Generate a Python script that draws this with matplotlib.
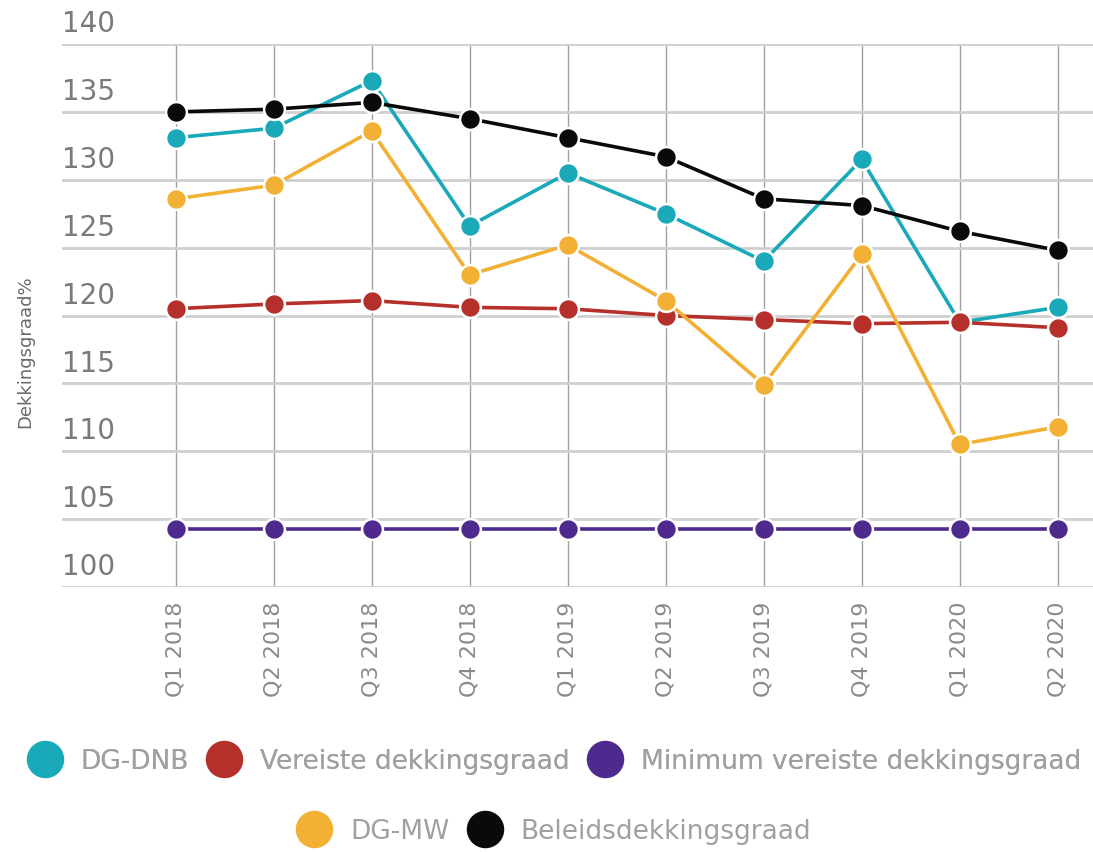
import matplotlib.pyplot as plt
from matplotlib.lines import Line2D
from matplotlib.transforms import blended_transform_factory

quarters = ["Q1 2018", "Q2 2018", "Q3 2018", "Q4 2018", "Q1 2019",
            "Q2 2019", "Q3 2019", "Q4 2019", "Q1 2020", "Q2 2020"]
dg_dnb = [133.1, 133.8, 137.3, 126.6, 130.5, 127.5, 124.0, 131.5, 119.5, 120.6]
vereiste = [120.5, 120.85, 121.1, 120.6, 120.5, 120.0, 119.7, 119.4, 119.5, 119.1]
minimum = [104.3] * 10
dg_mw = [128.6, 129.6, 133.6, 123.0, 125.2, 121.1, 114.9, 124.5, 110.5, 111.8]
beleid = [135.0, 135.2, 135.7, 134.5, 133.1, 131.7, 128.6, 128.1, 126.2, 124.8]
yticks = [100, 105, 110, 115, 120, 125, 130, 135, 140]

c_teal = "#1aa9b9"
c_red = "#b5302a"
c_purple = "#4e2a8e"
c_yellow = "#f2b134"
c_black = "#0a0a0a"
txt = "#8a8a8a"

fig = plt.figure(figsize=(10.93, 8.53), dpi=100)
ax = fig.add_axes([0.0567, 0.3107, 0.9433, 0.6365])

x = list(range(len(quarters)))
style = dict(lw=2.6, marker="o", markersize=15, markeredgecolor="white",
             markeredgewidth=1.8)
series = [(dg_dnb, c_teal, "DG-DNB", 3),
          (vereiste, c_red, "Vereiste dekkingsgraad", 4),
          (minimum, c_purple, "Minimum vereiste dekkingsgraad", 3),
          (dg_mw, c_yellow, "DG-MW", 5),
          (beleid, c_black, "Beleidsdekkingsgraad", 6)]
for vals, col, name, z in series:
    ax.plot(x, vals, color=col, zorder=z, **style)

ax.set_xlim(-1.16, 9.36)
ax.set_ylim(100, 140)
ax.set_yticks(yticks)
ax.set_xticks(x)
ax.set_xticklabels(quarters, rotation=90, fontsize=16, color=txt)
ax.tick_params(axis="both", length=0)
ax.tick_params(axis="x", pad=10)
ax.tick_params(axis="y", labelleft=False)
ax.grid(axis="y", color="#cfcfcf", lw=2)
ax.grid(axis="x", color="#a0a0a0", lw=1)
ax.set_axisbelow(True)
for s in ax.spines.values():
    s.set_visible(False)

# y tick labels sit above their gridline, left aligned
trans = blended_transform_factory(ax.transAxes, ax.transData)
for t in yticks:
    ax.text(0.0, t + 0.5, str(t), transform=trans, ha="left", va="bottom",
            fontsize=20, color="#7a7a7a")

fig.text(25 / 1093, 1 - 352 / 853, "Dekkingsgraad%", rotation=90,
         ha="center", va="center", fontsize=13, color="#6a6a6a")

def handle(col):
    return Line2D([], [], ls="none", marker="o", markersize=28,
                  markerfacecolor=col, markeredgecolor="white")

row1 = series[:3]
row2 = series[3:]
leg_kw = dict(frameon=False, fontsize=19, labelcolor="#a0a0a0",
              handletextpad=0.7, columnspacing=0.7, handlelength=1.3,
              loc="center")
leg1 = fig.legend([handle(s[1]) for s in row1], [s[2] for s in row1],
                  ncol=3, bbox_to_anchor=(0.507, 1 - 762 / 853), **leg_kw)
fig.add_artist(leg1)
fig.legend([handle(s[1]) for s in row2], [s[2] for s in row2],
           ncol=2, bbox_to_anchor=(0.507, 1 - 832 / 853), **leg_kw)

fig.savefig("out.png", dpi=100)
